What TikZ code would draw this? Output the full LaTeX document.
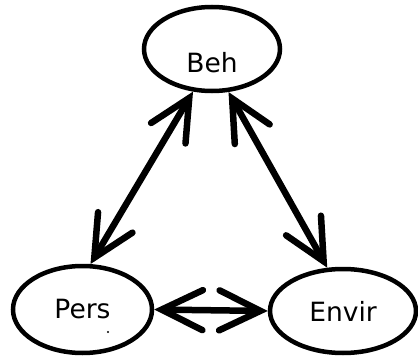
\documentclass[tikz,border=0pt]{standalone}
\usepackage{fontspec}
\setmainfont{DejaVu Sans}
\usetikzlibrary{shapes.geometric,arrows.meta}
\begin{document}
\begin{tikzpicture}[x=1pt,y=-1pt,
  oval/.style={ellipse,draw=black,line width=4.5pt,inner sep=0pt},
  lbl/.style={font=\fontsize{26.5}{30}\selectfont,inner sep=0pt},
  link/.style={line width=6.5pt,{Straight Barb[length=41pt,width=40pt,line cap=round]}-{Straight Barb[length=41pt,width=40pt,line cap=round]}}]
\useasboundingbox (0,0) rectangle (418,356);
\node[oval,minimum width=136pt,minimum height=84pt] (beh) at (212,49) {};
\node[lbl] (behtext) at (212,63) {Beh};
\node[oval,lbl,minimum width=139pt,minimum height=87pt] (pers) at (82.5,309.5) {Pers};
\node[oval,lbl,minimum width=146pt,minimum height=84pt] (envir) at (343,311) {Envir};
\fill (108,332) circle (1.1pt);
\draw[link] (beh.246.5) -- (pers.80.4);
\draw[link] (beh.291.4) -- (envir.110);
\draw[link] (pers.east) -- (envir.west);
\end{tikzpicture}
\end{document}
